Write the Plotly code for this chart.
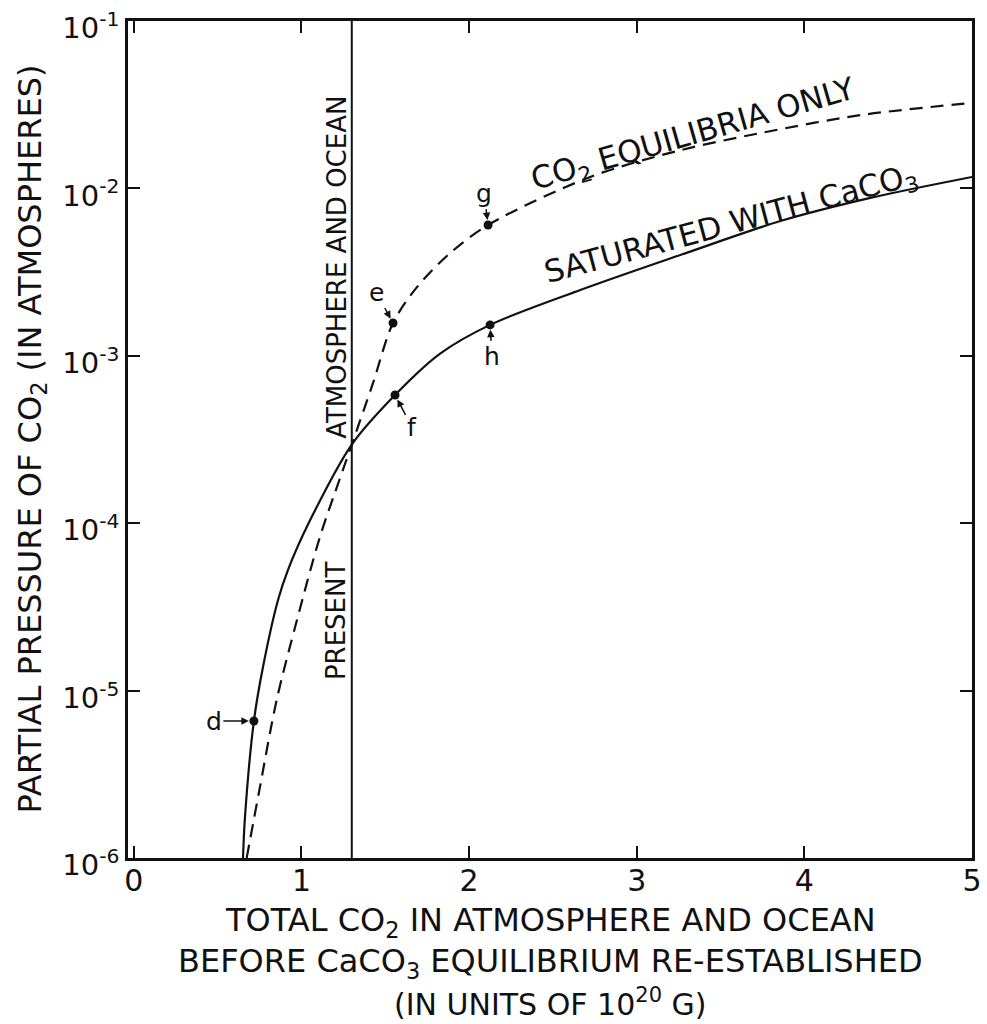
import math
import plotly.graph_objects as go

# ---- data ----
sat_x = [0.651, 0.663, 0.716, 0.770, 0.860, 0.919, 1.051, 1.30, 1.558, 1.827, 2.125, 2.663, 3.26, 3.857, 4.394, 5.0]
sat_y = [1.0e-6, 1.76e-6, 6.58e-6, 1.38e-5, 3.48e-5, 5.25e-5, 1.04e-4, 2.95e-4, 5.83e-4, 1.03e-3, 1.53e-3, 2.47e-3, 4.0e-3, 6.38e-3, 8.77e-3, 1.17e-2]

eq_x = [0.673, 0.752, 0.852, 0.973, 1.110, 1.230, 1.30, 1.427, 1.546, 1.690, 1.887, 2.113, 2.722, 3.26, 3.737, 4.334, 5.0]
eq_y = [1.0e-6, 2.65e-6, 8.8e-6, 2.64e-5, 8.28e-5, 1.86e-4, 2.95e-4, 6.89e-4, 1.57e-3, 2.58e-3, 4.11e-3, 6.04e-3, 1.17e-2, 1.69e-2, 2.14e-2, 2.74e-2, 3.24e-2]

present_x = 1.3

pt_labels = ["d", "e", "f", "g", "h"]
pt_x = [0.716, 1.546, 1.558, 2.113, 2.125]
pt_y = [6.58e-6, 1.57e-3, 5.83e-4, 6.04e-3, 1.53e-3]

x_ticks = [0, 1, 2, 3, 4, 5]
y_tickvals = [1e-6, 1e-5, 1e-4, 1e-3, 1e-2, 1e-1]
y_ticktext = ["10<sup>-6</sup>", "10<sup>-5</sup>", "10<sup>-4</sup>", "10<sup>-3</sup>", "10<sup>-2</sup>", "10<sup>-1</sup>"]

INK = "#111111"
FONT = "DejaVu Sans, Liberation Sans, Arial, sans-serif"

# figure geometry (page body margin is removed in the written page)
W, H = 987, 1024
L, R, T, B = 128, 15, 21, 166
PW, PH = W - L - R, H - T - B

def scr_to_paper_y(p):
    return (H - B - p) / PH

def scr_to_paper_x(p):
    return (p - L) / PW

fig = go.Figure()

fig.add_trace(go.Scatter(x=[present_x, present_x], y=[y_tickvals[0], y_tickvals[-1]],
                         mode="lines", line=dict(color=INK, width=2), showlegend=False, hoverinfo="skip"))
fig.add_trace(go.Scatter(x=sat_x, y=sat_y, mode="lines",
                         line=dict(color=INK, width=2.2, shape="spline", smoothing=0.9),
                         name="Saturated with CaCO3", showlegend=False))
fig.add_trace(go.Scatter(x=eq_x, y=eq_y, mode="lines",
                         line=dict(color=INK, width=2.2, shape="spline", smoothing=0.9, dash="13px,8px"),
                         name="CO2 equilibria only", showlegend=False))
fig.add_trace(go.Scatter(x=pt_x, y=pt_y, mode="markers", marker=dict(color=INK, size=9),
                         showlegend=False, hoverinfo="skip"))

# point labels with arrows (offsets in pixels)
offsets = {"d": (-40, 0), "e": (-17, -31), "f": (17, 32), "g": (-4, -32), "h": (2, 32)}
for lab, px, py in zip(pt_labels, pt_x, pt_y):
    ax, ay = offsets[lab]
    fig.add_annotation(x=px, y=math.log10(py), text=lab, showarrow=True, ax=ax, ay=ay,
                       arrowhead=2, arrowsize=1, arrowwidth=1.5, arrowcolor=INK, standoff=5,
                       font=dict(family=FONT, size=25, color=INK))

# vertical texts by the present line
fig.add_annotation(x=present_x, y=-4.58, text="PRESENT", textangle=-90, showarrow=False,
                   xshift=-15, font=dict(family=FONT, size=26, color=INK))
fig.add_annotation(x=present_x, y=-2.47, text="ATMOSPHERE AND OCEAN", textangle=-90, showarrow=False,
                   xshift=-15, font=dict(family=FONT, size=26, color=INK))

# curve labels
fig.add_annotation(x=3.34, y=-1.685, text="CO<sub>2</sub> EQUILIBRIA ONLY", textangle=-16, showarrow=False,
                   font=dict(family=FONT, size=31, color=INK))
fig.add_annotation(x=3.56, y=-2.22, text="SATURATED WITH CaCO<sub>3</sub>", textangle=-15, showarrow=False,
                   font=dict(family=FONT, size=31, color=INK))

# axis titles
fig.add_annotation(xref="paper", yref="paper", x=0.5, y=scr_to_paper_y(922), yanchor="middle",
                   text="TOTAL CO<sub>2</sub> IN ATMOSPHERE AND OCEAN", showarrow=False,
                   font=dict(family=FONT, size=32, color=INK))
fig.add_annotation(xref="paper", yref="paper", x=0.5, y=scr_to_paper_y(963), yanchor="middle",
                   text="BEFORE CaCO<sub>3</sub> EQUILIBRIUM RE-ESTABLISHED", showarrow=False,
                   font=dict(family=FONT, size=32, color=INK))
fig.add_annotation(xref="paper", yref="paper", x=0.5, y=scr_to_paper_y(1002), yanchor="middle",
                   text="(IN UNITS OF 10<sup>20</sup> G)", showarrow=False,
                   font=dict(family=FONT, size=30, color=INK))
fig.add_annotation(xref="paper", yref="paper", x=scr_to_paper_x(31), y=0.5, xanchor="center",
                   text="PARTIAL PRESSURE OF CO<sub>2</sub> (IN ATMOSPHERES)", textangle=-90, showarrow=False,
                   font=dict(family=FONT, size=32, color=INK))

fig.update_layout(
    width=W, height=H,
    margin=dict(l=L, r=R, t=T, b=B, autoexpand=False),
    paper_bgcolor="white", plot_bgcolor="white",
    font=dict(family=FONT, color=INK),
    xaxis=dict(range=[-0.035, 5.0], tickvals=x_ticks, ticks="inside", ticklen=12, tickwidth=1.5,
               tickcolor=INK, showline=True, linecolor=INK, linewidth=2.5, mirror="ticks",
               showgrid=False, zeroline=False, tickfont=dict(size=30), automargin=False,
               ticklabeloverflow="allow", ticklabelstandoff=-6),
    yaxis=dict(type="log", range=[-6, -1], tickvals=y_tickvals, ticktext=y_ticktext,
               ticks="inside", ticklen=12, tickwidth=1.5, tickcolor=INK,
               showline=True, linecolor=INK, linewidth=2.5, mirror="ticks",
               showgrid=False, zeroline=False, tickfont=dict(size=29), automargin=False,
               ticklabeloverflow="allow", ticklabelshift=7),
)

fig.write_html("out.html", config={"displayModeBar": False},
               post_script="document.body.style.margin='0';")
